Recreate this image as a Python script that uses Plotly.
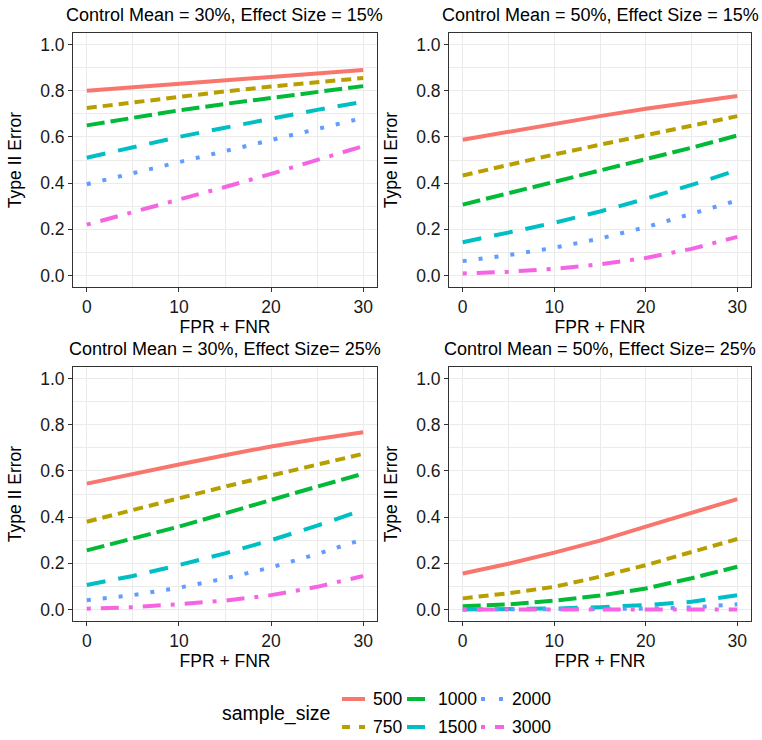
import plotly.graph_objects as go

# ---------------- data ----------------
fpr_fnr = [0, 5, 10, 15, 20, 25, 30]
sample_sizes = ["500", "750", "1000", "1500", "2000", "3000"]

panel_titles = [
    "Control Mean = 30%, Effect Size = 15%",
    "Control Mean = 50%, Effect Size = 15%",
    "Control Mean = 30%, Effect Size= 25%",
    "Control Mean = 50%, Effect Size= 25%",
]

cm30_es15 = {
    "500":  [0.800, 0.815, 0.830, 0.845, 0.860, 0.875, 0.890],
    "750":  [0.725, 0.750, 0.775, 0.797, 0.818, 0.838, 0.855],
    "1000": [0.650, 0.683, 0.715, 0.743, 0.770, 0.796, 0.820],
    "1500": [0.510, 0.555, 0.600, 0.640, 0.680, 0.717, 0.752],
    "2000": [0.395, 0.443, 0.493, 0.542, 0.590, 0.636, 0.682],
    "3000": [0.220, 0.273, 0.328, 0.383, 0.440, 0.500, 0.560],
}
cm50_es15 = {
    "500":  [0.588, 0.623, 0.657, 0.690, 0.722, 0.750, 0.777],
    "750":  [0.433, 0.480, 0.524, 0.566, 0.606, 0.648, 0.690],
    "1000": [0.307, 0.356, 0.404, 0.452, 0.502, 0.553, 0.606],
    "1500": [0.144, 0.184, 0.228, 0.277, 0.332, 0.392, 0.456],
    "2000": [0.062, 0.088, 0.120, 0.160, 0.209, 0.265, 0.325],
    "3000": [0.009, 0.016, 0.029, 0.048, 0.076, 0.115, 0.167],
}
cm30_es25 = {
    "500":  [0.545, 0.588, 0.628, 0.668, 0.706, 0.738, 0.767],
    "750":  [0.380, 0.432, 0.482, 0.532, 0.580, 0.628, 0.674],
    "1000": [0.256, 0.307, 0.359, 0.416, 0.475, 0.532, 0.588],
    "1500": [0.106, 0.145, 0.192, 0.243, 0.300, 0.363, 0.431],
    "2000": [0.040, 0.062, 0.094, 0.134, 0.182, 0.240, 0.304],
    "3000": [0.003, 0.010, 0.023, 0.038, 0.062, 0.098, 0.145],
}
cm50_es25 = {
    "500":  [0.156, 0.198, 0.246, 0.298, 0.359, 0.418, 0.478],
    "750":  [0.048, 0.070, 0.098, 0.142, 0.192, 0.248, 0.305],
    "1000": [0.014, 0.022, 0.038, 0.060, 0.091, 0.135, 0.185],
    "1500": [0.000, 0.001, 0.004, 0.010, 0.019, 0.033, 0.062],
    "2000": [0.000, 0.000, 0.000, 0.001, 0.003, 0.009, 0.022],
    "3000": [0.000, 0.000, 0.000, 0.000, 0.000, 0.000, 0.000],
}
panels = [cm30_es15, cm50_es15, cm30_es25, cm50_es25]

y_ticks = [0.0, 0.2, 0.4, 0.6, 0.8, 1.0]
y_ticklabels = ["0.0", "0.2", "0.4", "0.6", "0.8", "1.0"]
x_ticks = [0, 10, 20, 30]
legend_title = "sample_size"

# ---------------- style ----------------
colors = {"500": "#F8766D", "750": "#B79F00", "1000": "#00BA38",
          "1500": "#00BFC4", "2000": "#619CFF", "3000": "#F564E3"}
dashes = {"500": "solid", "750": "10px,6px", "1000": "18px,6px",
          "1500": "19px,13px", "2000": "4px,12px", "3000": "4px,10px,18px,10px"}
legend_dashes = {"500": "solid", "750": "8px,9px", "1000": "18px,6px",
                 "1500": "18px,13px", "2000": "4px,14px", "3000": "4px,10px,18px,10px"}
# legend grid position (column, row) of each key
legend_pos = {"500": (0, 0), "750": (0, 1), "1000": (1, 0),
              "1500": (1, 1), "2000": (2, 0), "3000": (2, 1)}
legend_col_left = [342, 407, 481]
legend_row_y = [699, 727]
KEY_LEN = 23
TEXT_OFF = 30

W, H = 762, 740
FS = 17.5
FONT = "Liberation Sans, Arial, Helvetica, sans-serif"

# panel boxes in pixels (left, right, top, bottom)
boxes = [(73, 377, 33, 287), (449, 751, 33, 287),
         (73, 377, 367, 621), (449, 751, 367, 621)]

fig = go.Figure()
layout = dict(
    width=W, height=H,
    margin=dict(l=0, r=0, t=0, b=0),
    paper_bgcolor="white", plot_bgcolor="white",
    font=dict(family=FONT, size=FS, color="black"),
    annotations=[], shapes=[], showlegend=False,
)

for i, (data, box) in enumerate(zip(panels, boxes)):
    k = "" if i == 0 else str(i + 1)
    l, r, t, b = box
    xd = [l / W, r / W]
    yd = [1 - b / H, 1 - t / H]
    for s in sample_sizes:
        fig.add_trace(go.Scatter(
            x=fpr_fnr, y=data[s], mode="lines", name=s,
            line=dict(color=colors[s], width=4, dash=dashes[s]),
            xaxis="x" + k, yaxis="y" + k,
        ))
    common = dict(
        showline=True, mirror=True, linecolor="#333333", linewidth=1,
        showgrid=True, gridcolor="#EBEBEB", gridwidth=1.3,
        zeroline=False, ticks="outside", ticklen=4, tickcolor="#333333",
        tickwidth=1, tickfont=dict(size=FS, color="#1a1a1a"),
    )
    layout["xaxis" + k] = dict(
        common, domain=xd, range=[-1.5, 31.5], tickvals=x_ticks,
        anchor="y" + k,
        minor=dict(dtick=5, tick0=0, showgrid=True, gridcolor="#EBEBEB", gridwidth=0.7, ticks=""),
        title=dict(text="FPR + FNR", font=dict(size=FS), standoff=0),
    )
    layout["yaxis" + k] = dict(
        common, domain=yd, range=[-0.05, 1.05], tickvals=y_ticks,
        ticktext=y_ticklabels, anchor="x" + k,
        minor=dict(dtick=0.1, tick0=0, showgrid=True, gridcolor="#EBEBEB", gridwidth=0.7, ticks=""),
        title=dict(text="Type II Error", font=dict(size=FS), standoff=14),
    )
    layout["annotations"].append(dict(
        text=panel_titles[i], x=(l + r) / 2 / W, y=1 - (t - 18) / H,
        xref="paper", yref="paper", xanchor="center", yanchor="middle",
        showarrow=False, font=dict(size=18, color="black"),
    ))

# ---------------- legend (drawn in paper coordinates) ----------------
layout["annotations"].append(dict(
    text=legend_title, x=220 / W, y=1 - 713 / H, xref="paper", yref="paper",
    xanchor="left", yanchor="middle", showarrow=False, font=dict(size=19.5),
))
for s in sample_sizes:
    c, rr = legend_pos[s]
    x0 = legend_col_left[c]
    yy = legend_row_y[rr]
    layout["shapes"].append(dict(
        type="line", xref="paper", yref="paper",
        x0=x0 / W, x1=(x0 + KEY_LEN) / W, y0=1 - yy / H, y1=1 - yy / H,
        line=dict(color=colors[s], width=4, dash=legend_dashes[s]),
    ))
    layout["annotations"].append(dict(
        text=s, x=(x0 + TEXT_OFF - 1) / W, y=1 - yy / H, xref="paper", yref="paper",
        xanchor="left", yanchor="middle", showarrow=False, font=dict(size=FS),
    ))

fig.update_layout(**layout)
fig.write_html("out.html")
